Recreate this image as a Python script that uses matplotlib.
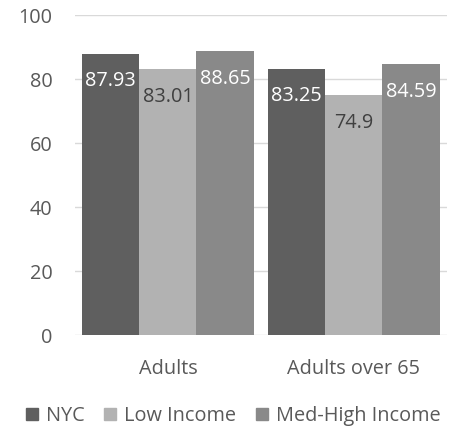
import numpy as np
import matplotlib.pyplot as plt
from matplotlib.patches import Patch

plt.rcParams['font.family'] = ['Open Sans', 'DejaVu Sans']

categories = ['Adults', 'Adults over 65']
series = ['NYC', 'Low Income', 'Med-High Income']
nyc = [87.93, 83.25]
low_income = [83.01, 74.9]
med_high = [88.65, 84.59]

colors = ['#5f5f5f', '#b2b2b2', '#898989']
label_colors = ['white', '#404040', 'white']

fig = plt.figure(figsize=(4.57, 4.29), dpi=100)
ax = fig.add_axes([0.164, 0.219, 0.814, 0.746])

x = np.arange(len(categories))
width = 0.307
for i, (vals, name) in enumerate(zip([nyc, low_income, med_high], series)):
    pos = x + (i - 1) * width
    ax.bar(pos, vals, width, color=colors[i], label=name, zorder=2)
    for px, v in zip(pos, vals):
        ax.annotate(f'{v:g}', (px, v), xytext=(0, -20), textcoords='offset points',
                    ha='center', va='center', fontsize=14.3, color=label_colors[i], zorder=3)

ax.set_xlim(-0.5, 1.5)
ax.set_ylim(0, 100)
ax.set_yticks(range(0, 101, 20))
ax.yaxis.grid(True, color='#d9d9d9', linewidth=1, zorder=0)
for s in ax.spines.values():
    s.set_visible(False)
ax.tick_params(axis='both', length=0, labelsize=14.3, labelcolor='#595959')
ax.tick_params(axis='y', pad=16)
ax.tick_params(axis='x', pad=17)
ax.set_xticks(x)
ax.set_xticklabels(categories)

handles = [Patch(color=c) for c in colors]
fig.legend(handles, series, loc='lower center', bbox_to_anchor=(0.51, -0.035), ncol=3,
           frameon=False, fontsize=14.3, labelcolor='#595959', handlelength=0.6,
           handleheight=0.6, handletextpad=0.4, columnspacing=1.0)

fig.savefig('out.png', dpi=100)
